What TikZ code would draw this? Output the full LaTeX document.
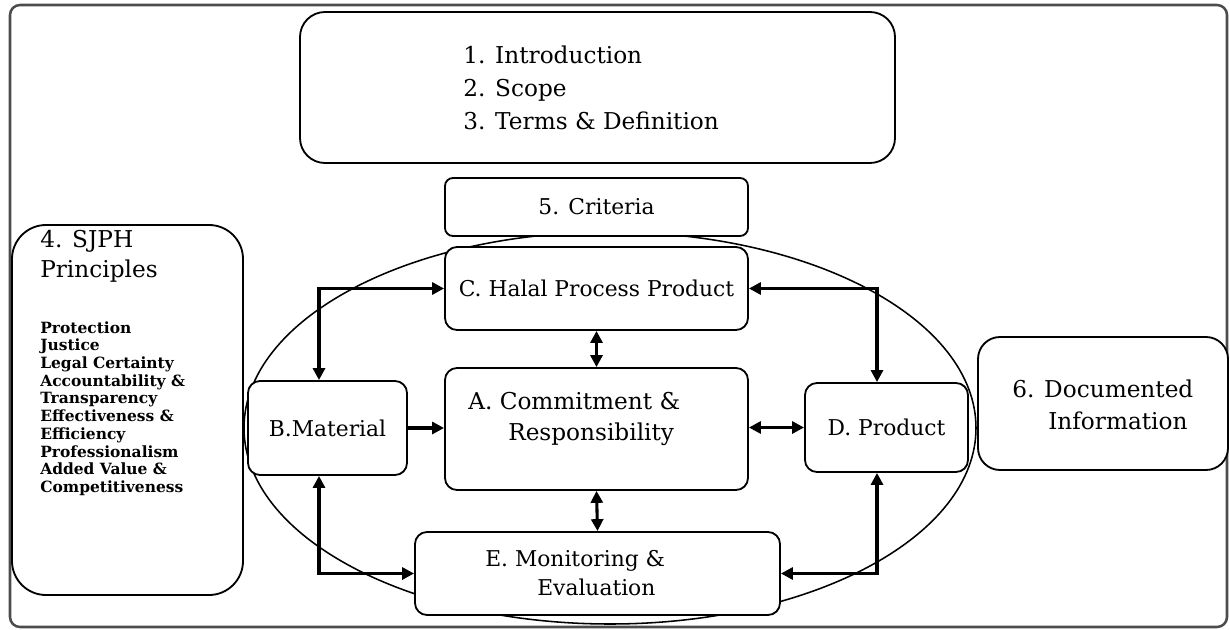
\documentclass[tikz,border=0pt]{standalone}
\usepackage{fontspec}
\setmainfont{DejaVu Serif}
\usetikzlibrary{arrows.meta}
\definecolor{Micolormarco}{gray}{0.3}
\newlength{\pix}
\setlength{\pix}{0.025cm}

\begin{document}
\begin{tikzpicture}[x=0.025cm,y=-0.025cm,
 caja/.style={draw,fill=white,line width=1.3pt,rounded corners=12\pix,inner sep=0pt,font=\fontsize{15.5}{21}\selectfont},
 texto/.style={inner sep=0pt,align=left,anchor=north west},
 punta/.style={line width=2.2pt,-{Triangle[length=8.5pt,width=8.5pt]}},
 doble/.style={line width=2.2pt,{Triangle[length=8.5pt,width=8.5pt]}-{Triangle[length=8.5pt,width=8.5pt]}}]
\useasboundingbox (0,0) rectangle (1230,630);
\draw[color=Micolormarco,line width=1.8pt,rounded corners=10\pix] (10,5) rectangle (1227,627);
\draw[line width=1.1pt] (610,428) ellipse [x radius=366,y radius=196];

\node[caja,rounded corners=25\pix,minimum width=595\pix,minimum height=151\pix] (intro) at (597.5,87.5) {};
\node[texto,font=\fontsize{16.5}{23.4}\selectfont] (introtxt) at (463,46) {1. Introduction\\2. Scope\\3. Terms \& Definition};
\node[caja,rounded corners=8\pix,minimum width=303\pix,minimum height=58\pix] (crit) at (596.5,207) {5. Criteria};

\node[caja,rounded corners=34\pix,minimum width=231\pix,minimum height=370\pix] (sjph) at (127.5,410) {};
\node[texto,font=\fontsize{16.5}{21.5}\selectfont] (sjphtit) at (40,230) {4. SJPH\\Principles};
\node[texto,font=\fontsize{11}{12.6}\bfseries] (sjphlst) at (40,321) {Protection\\Justice\\Legal Certainty\\Accountability \&\\Transparency\\Effectiveness \&\\Efficiency\\Professionalism\\Added Value \&\\Competitiveness};

\node[caja,minimum width=303\pix,minimum height=83\pix] (C) at (596.5,288.5) {C. Halal Process Product};
\node[caja,minimum width=303\pix,minimum height=122\pix] (A) at (596.5,429) {};
\node[texto,font=\fontsize{16.5}{22.7}\selectfont] (Atxt) at (468,391.5) {A. Commitment \&\\\hspace*{40\pix}Responsibility};
\node[caja,minimum width=159\pix,minimum height=94\pix] (B) at (327.5,428) {B.Material};
\node[caja,minimum width=163\pix,minimum height=89\pix] (D) at (886.5,427.5) {D. Product};
\node[caja,minimum width=365\pix,minimum height=83\pix] (E) at (597.5,573.5) {};
\node[texto,font=\fontsize{15.5}{21}\selectfont] (Etxt) at (485,550) {E. Monitoring \&\\\hspace*{52\pix}Evaluation};

\node[caja,rounded corners=22\pix,minimum width=250\pix,minimum height=133\pix] (doc) at (1103,403.5) {};
\node[texto,font=\fontsize{16.5}{22.7}\selectfont] (doctxt) at (1012,379.5) {6. Documented\\\hspace*{36\pix}Information};

\coordinate (ci) at (319,288.5);
\coordinate (cd) at (877,288.5);
\coordinate (ii) at (319,573.5);
\coordinate (id) at (877,573.5);
\draw[doble] (C.west) -- (ci) -- (ci |- B.north);
\draw[doble] (C.east) -- (cd) -- (cd |- D.north);
\draw[doble] (E.west) -- (ii) -- (ii |- B.south);
\draw[doble] (E.east) -- (id) -- (id |- D.south);
\draw[punta] (B.east) -- (A.west |- B.east);
\draw[doble] (A.east |- D.west) -- (D.west);
\foreach \de/\a in {A.north/C.south,A.south/E.north}
  \draw[doble] (\de) -- (\a);
\end{tikzpicture}
\end{document}
